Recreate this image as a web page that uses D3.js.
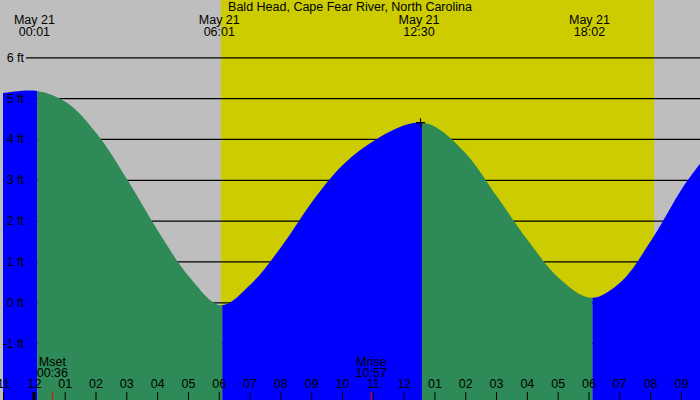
<!DOCTYPE html>
<html>
<head>
<meta charset="utf-8">
<script src="https://cdn.jsdelivr.net/npm/d3@7"></script>
<style>
  body { margin: 0; background: #fff; }
  text { font-family: "Liberation Sans", Arial, sans-serif; }
</style>
</head>
<body>
<div class="chart"></div>
<script>
// tide heights, hours after midnight May 21
const tideHours   = [-1.1, 0.017, 1, 2, 3, 4, 5, 6.017, 7, 8, 9, 10, 11, 12, 12.5, 13, 14, 15, 16, 17, 18.033, 19, 20, 21, 21.62];
const tideHeights = [5.12, 5.18, 4.9, 4.12, 2.98, 1.72, 0.62, -0.07, 0.45, 1.38, 2.48, 3.38, 3.96, 4.34, 4.40, 4.29, 3.62, 2.57, 1.5, 0.59, 0.11, 0.5, 1.53, 2.8, 3.44];

// high / low tide events
const extremeHours = [0.017, 6.017, 12.5, 18.033];
const extremeDates = ["May 21", "May 21", "May 21", "May 21"];
const extremeTimes = ["00:01", "06:01", "12:30", "18:02"];

// daylight
const sunHours = [6.07, 20.13];

// moon events
const moonHours  = [0.6, 10.95];
const moonNames  = ["Mset", "Mrise"];
const moonTimes  = ["00:36", "10:57"];

const footTicks = [-1, 0, 1, 2, 3, 4, 5, 6];
const hourTicks = [-1, 0, 1, 2, 3, 4, 5, 6, 7, 8, 9, 10, 11, 12, 13, 14, 15, 16, 17, 18, 19, 20, 21];
const hourLabels = ["11", "12", "01", "02", "03", "04", "05", "06", "07", "08", "09", "10", "11",
                    "12", "01", "02", "03", "04", "05", "06", "07", "08", "09"];

const title = "Bald Head, Cape Fear River, North Carolina";

makeSVG();

function makeSVG() {
    const width = 700;
    const height = 400;

    const svg = d3.select(".chart").append("svg")
        .attr("width", width)
        .attr("height", height);

    const xScale = d3.scaleLinear()
        .domain([-1.1, 21.62])
        .range([0, width]);
    const yScale = d3.scaleLinear()
        .domain([0, 6])
        .range([302.3, 57.3]);

    // night background
    svg.append("rect")
        .attr("width", width)
        .attr("height", height)
        .attr("fill", "#bebebe");

    // daylight
    svg.append("rect")
        .attr("x", xScale(sunHours[0]))
        .attr("y", 0)
        .attr("width", xScale(sunHours[1]) - xScale(sunHours[0]))
        .attr("height", height)
        .attr("fill", "#cccc00");

    // grid lines (behind water)
    const yGrid = d3.axisLeft(yScale)
        .tickValues(footTicks)
        .tickSize(-(width - 26))
        .tickFormat("");
    svg.append("g")
        .attr("class", "grid")
        .attr("transform", "translate(26,0)")
        .call(yGrid)
        .call(g => g.select(".domain").remove())
        .selectAll("line")
        .attr("stroke", "#000")
        .attr("stroke-width", 1.2);

    const tide = tideHours.map((h, i) => ({h: h, v: tideHeights[i]}));

    const area = d3.area()
        .x(d => xScale(d.h))
        .y0(height)
        .y1(d => yScale(d.v))
        .curve(d3.curveCatmullRom.alpha(0.5));

    // split between extremes: falling = green, rising = blue
    const bounds = [xScale.domain()[0]].concat(extremeHours, [xScale.domain()[1]]);
    const defs = svg.append("defs");
    for (let i = 0; i < bounds.length - 1; i++) {
        const a = bounds[i], b = bounds[i + 1];
        const va = i == 0 ? tideHeights[0] : tideHeights[tideHours.indexOf(a)];
        const vb = i == bounds.length - 2 ? tideHeights[tideHeights.length - 1] : tideHeights[tideHours.indexOf(b)];
        defs.append("clipPath")
            .attr("id", "seg" + i)
            .append("rect")
            .attr("x", xScale(a) + 1.5)
            .attr("y", 0)
            .attr("width", xScale(b) - xScale(a))
            .attr("height", height);
        svg.append("path")
            .datum(tide)
            .attr("clip-path", "url(#seg" + i + ")")
            .attr("transform", "translate(1.5,0)")
            .attr("fill", vb < va ? "#2e8b57" : "#0000ff")
            .attr("d", area);
    }

    // foot labels on top
    svg.append("g")
        .selectAll("text")
        .data(footTicks)
        .enter()
        .append("text")
        .attr("x", 24)
        .attr("y", d => yScale(d))
        .attr("dy", "0.35em")
        .attr("text-anchor", "end")
        .attr("font-size", 12.5)
        .text(d => d + " ft");

    // title
    svg.append("text")
        .attr("x", width / 2)
        .attr("y", 11)
        .attr("text-anchor", "middle")
        .attr("font-size", 12.5)
        .text(title);

    // tide event labels
    const ev = svg.append("g")
        .selectAll("g")
        .data(extremeHours)
        .enter()
        .append("g")
        .attr("transform", d => `translate(${xScale(d)},0)`);
    ev.append("text")
        .attr("y", 24)
        .attr("text-anchor", "middle")
        .attr("font-size", 12.5)
        .text((d, i) => extremeDates[i]);
    ev.append("text")
        .attr("y", 36)
        .attr("text-anchor", "middle")
        .attr("font-size", 12.5)
        .text((d, i) => extremeTimes[i]);

    // crosshair at the highest tide in view
    const hiIdx = tideHours.indexOf(extremeHours[2]);
    const cx = xScale(extremeHours[2]) + 1.5, cy = yScale(tideHeights[hiIdx]);
    svg.append("path")
        .attr("d", `M${cx - 4.5},${cy}H${cx + 4.5}M${cx},${cy - 4.5}V${cy + 4.5}`)
        .attr("stroke", "#000")
        .attr("stroke-width", 1.2);

    // hour ticks
    const xTicks = d3.axisBottom(xScale)
        .tickValues(hourTicks)
        .tickSize(8)
        .tickFormat("");
    svg.append("g")
        .attr("transform", "translate(0,392)")
        .call(xTicks)
        .call(g => g.select(".domain").remove())
        .selectAll("line")
        .attr("stroke", "#000");

    const xLabels = d3.axisTop(xScale)
        .tickValues(hourTicks)
        .tickSize(0)
        .tickPadding(2)
        .tickFormat((d, i) => hourLabels[i]);
    svg.append("g")
        .attr("transform", "translate(0,390)")
        .call(xLabels)
        .call(g => g.select(".domain").remove())
        .selectAll("text")
        .attr("fill", "#000")
        .attr("font-size", 12.5)
        .attr("font-family", "Liberation Sans, Arial, sans-serif");

    // midnight marker
    svg.append("rect")
        .attr("x", xScale(0) - 1.5)
        .attr("y", 392)
        .attr("width", 3)
        .attr("height", 8)
        .attr("fill", "#000");

    // moon events
    svg.append("g")
        .selectAll("line")
        .data(moonHours)
        .enter()
        .append("line")
        .attr("x1", d => xScale(d))
        .attr("x2", d => xScale(d))
        .attr("y1", 392)
        .attr("y2", 400)
        .attr("stroke", "#ff0000");

    const moon = svg.append("g")
        .selectAll("g")
        .data(moonHours)
        .enter()
        .append("g")
        .attr("transform", d => `translate(${xScale(d)},0)`);
    moon.append("text")
        .attr("y", 366)
        .attr("text-anchor", "middle")
        .attr("font-size", 12.5)
        .text((d, i) => moonNames[i]);
    moon.append("text")
        .attr("y", 377)
        .attr("text-anchor", "middle")
        .attr("font-size", 12.5)
        .text((d, i) => moonTimes[i]);
}
</script>
</body>
</html>
